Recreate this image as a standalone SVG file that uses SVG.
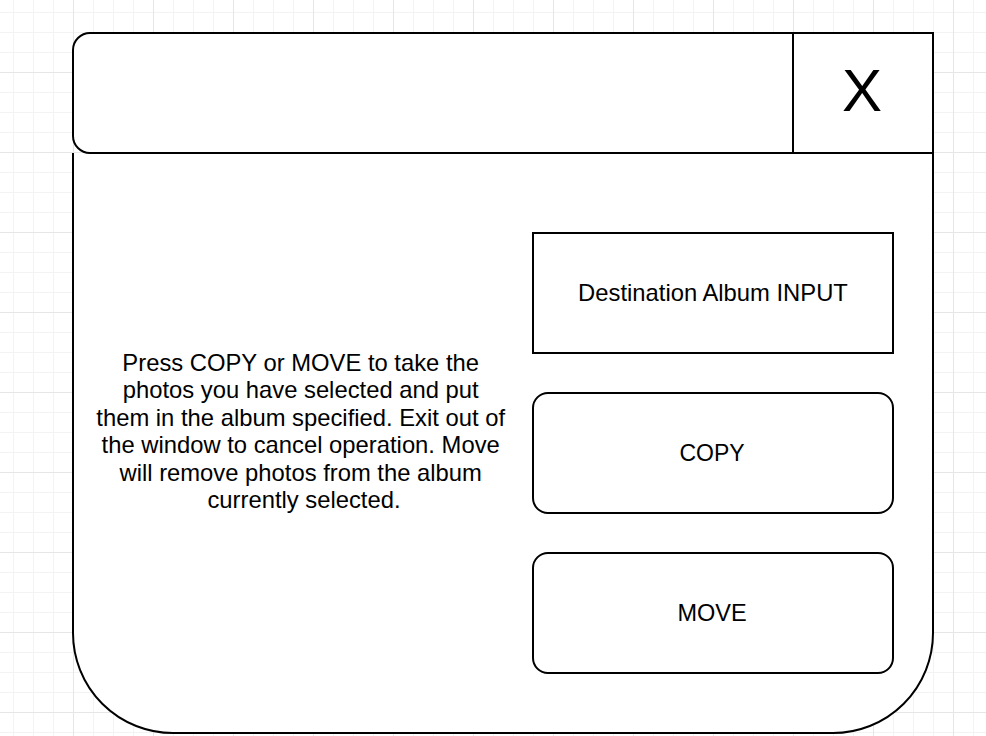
<svg xmlns="http://www.w3.org/2000/svg" width="986" height="736" viewBox="0 0 986 736">
  <defs>
    <pattern id="grid" patternUnits="userSpaceOnUse" x="13" y="12" width="80" height="80">
      <rect width="80" height="80" fill="#ffffff"/>
      <g fill="#f3f3f3">
        <rect x="0" y="0" width="1" height="80"/>
        <rect x="20" y="0" width="1" height="80"/>
        <rect x="40" y="0" width="1" height="80"/>
        <rect x="0" y="0" width="80" height="1"/>
        <rect x="0" y="20" width="80" height="1"/>
        <rect x="0" y="40" width="80" height="1"/>
      </g>
      <g fill="#e6e6e6">
        <rect x="60" y="0" width="1" height="80"/>
        <rect x="0" y="60" width="80" height="1"/>
      </g>
    </pattern>
  </defs>
  <style>
    .shape { fill: #ffffff; stroke: #000000; stroke-width: 2; }
    .lbl { font-family: "Liberation Sans", Helvetica, Arial, sans-serif; fill: #000000; text-anchor: middle; }
  </style>
  <rect width="986" height="736" fill="url(#grid)"/>

  <g id="window-body">
    <path class="shape" d="M73,153 V633 A100,100 0 0 0 173,733 H833 A100,100 0 0 0 933,633 V153"/>
  </g>

  <g id="title-bar">
    <path class="shape" d="M90,33 H933 V153 H90 A17,17 0 0 1 73,136 V50 A17,17 0 0 1 90,33 Z"/>
  </g>

  <g id="close-button">
    <rect class="shape" x="793" y="33" width="140" height="120"/>
    <text class="lbl" x="862" y="111" font-size="60">X</text>
  </g>

  <g id="instructions">
    <text class="lbl" font-size="23.8">
      <tspan x="304" y="371">Press COPY or MOVE to take the</tspan>
      <tspan x="304" y="398.4">photos you have selected and put</tspan>
      <tspan x="304" y="425.8">them in the album specified. Exit out of</tspan>
      <tspan x="304" y="453.2">the window to cancel operation. Move</tspan>
      <tspan x="304" y="480.6">will remove photos from the album</tspan>
      <tspan x="304" y="508">currently selected.</tspan>
    </text>
  </g>

  <g id="destination-input">
    <rect class="shape" x="533" y="233" width="360" height="120"/>
    <text class="lbl" x="713" y="301" font-size="23.8">Destination Album INPUT</text>
  </g>

  <g id="copy-button">
    <rect class="shape" x="533" y="393" width="360" height="120" rx="15" ry="15"/>
    <text class="lbl" x="712" y="461" font-size="23">COPY</text>
  </g>

  <g id="move-button">
    <rect class="shape" x="533" y="553" width="360" height="120" rx="15" ry="15"/>
    <text class="lbl" x="712" y="621" font-size="23.5">MOVE</text>
  </g>

  <g id="connectors"></g>
</svg>
